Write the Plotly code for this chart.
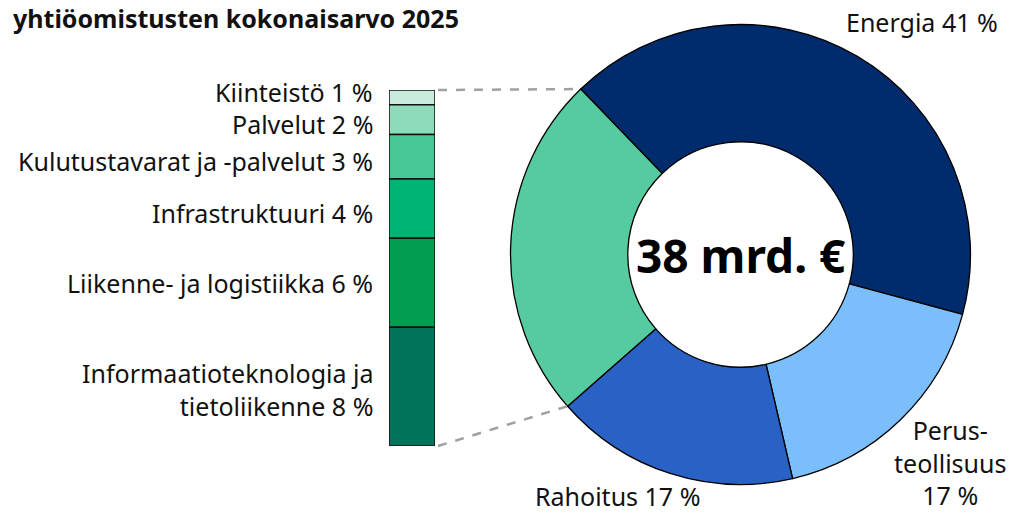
import math

import plotly.graph_objects as go

W, H = 1010, 513
FONT = "Noto Sans"

# Main donut
main_labels = ["Energia", "Perusteollisuus", "Rahoitus", "Muut toimialat"]
main_values = [41, 17, 17, 24]
main_colors = ["#002B6C", "#7BBEFC", "#2962C4", "#57CBA0"]
main_texts = ["Energia 41 %", "Perus-<br>teollisuus<br>17 %", "Rahoitus 17 %"]

# Breakdown of the green slice
other_labels = [
    "Kiinteistö 1 %",
    "Palvelut 2 %",
    "Kulutustavarat ja -palvelut 3 %",
    "Infrastruktuuri 4 %",
    "Liikenne- ja logistiikka 6 %",
    "Informaatioteknologia ja<br>tietoliikenne 8 %",
]
other_values = [1, 2, 3, 4, 6, 8]
other_colors = ["#C8EBDC", "#8DDBBA", "#46C796", "#00B473", "#009E4E", "#00735A"]
label_shift = [5, -4, -4, -4, 0, -3]

total_text = "38 mrd. €"
title_text = "yhtiöomistusten kokonaisarvo 2025"

# geometry (pixels)
cx, cy, R = 740.5, 254.5, 230
bar_left, bar_right, bar_top, bar_bottom = 389, 435, 90, 446
rotation = -44
TXT = 25

fig = go.Figure()

fig.add_trace(
    go.Pie(
        labels=main_labels,
        values=main_values,
        marker=dict(colors=main_colors, line=dict(color="#000000", width=1.3)),
        hole=0.49,
        sort=False,
        direction="clockwise",
        rotation=rotation,
        textinfo="none",
        hoverinfo="label+percent",
        showlegend=False,
        domain=dict(
            x=[(cx - R) / W, (cx + R) / W],
            y=[1 - (cy + R) / H, 1 - (cy - R) / H],
        ),
    )
)

base = 0
for lab, val, col in zip(other_labels, other_values, other_colors):
    fig.add_trace(
        go.Bar(
            x=[0],
            y=[val],
            base=[base],
            width=1,
            marker=dict(color=col, line=dict(color="#111111", width=1.5)),
            name=lab.replace("<br>", " "),
            hoverinfo="name",
            showlegend=False,
        )
    )
    base += val
other_total = base

fig.update_layout(
    width=W,
    height=H,
    margin=dict(l=0, r=0, t=0, b=0),
    paper_bgcolor="white",
    plot_bgcolor="rgba(0,0,0,0)",
    barmode="overlay",
    xaxis=dict(
        domain=[bar_left / W, bar_right / W],
        range=[-0.5, 0.5],
        visible=False,
        fixedrange=True,
    ),
    yaxis=dict(
        domain=[1 - bar_bottom / H, 1 - bar_top / H],
        range=[other_total, 0],
        visible=False,
        fixedrange=True,
    ),
    font=dict(family=FONT, color="#111111"),
)

# category labels next to the bar
cum = 0
for lab, val, sh in zip(other_labels, other_values, label_shift):
    fig.add_annotation(
        text=lab,
        x=374 / W,
        xref="paper",
        y=cum + val / 2,
        yref="y",
        xanchor="right",
        yanchor="middle",
        align="right",
        yshift=sh,
        borderpad=0,
        showarrow=False,
        font=dict(size=TXT, family=FONT, color="#111111"),
    )
    cum += val


# connector lines from bar to the green slice edges
def rim_point(frac):
    ang = math.radians(rotation + 360 * frac)
    return (cx + R * math.sin(ang)) / W, 1 - (cy - R * math.cos(ang)) / H


tot = sum(main_values)
start_frac = (tot - main_values[-1]) / tot
for frac, ypix in [(0.0, bar_top), (start_frac, bar_bottom)]:
    px, py = rim_point(frac)
    fig.add_shape(
        type="line",
        xref="paper",
        yref="paper",
        x0=(bar_right + 3) / W,
        y0=1 - ypix / H,
        x1=px,
        y1=py,
        line=dict(color="#A0A0A0", width=2.5, dash="dash"),
    )

# centre value
fig.add_annotation(
    text=f"<b>{total_text}</b>",
    x=cx / W,
    y=1 - cy / H,
    xref="paper",
    yref="paper",
    xanchor="center",
    yanchor="middle",
    showarrow=False,
    font=dict(size=46, family=FONT, color="#000000"),
)

# slice labels
for txt, (x, y) in zip(main_texts, [(922, 22), (950, 462), (617, 496)]):
    fig.add_annotation(
        text=txt,
        x=x / W,
        y=1 - y / H,
        xref="paper",
        yref="paper",
        xanchor="center",
        yanchor="middle",
        align="center",
        borderpad=0,
        showarrow=False,
        font=dict(size=TXT, family=FONT, color="#111111"),
    )

fig.add_annotation(
    text=f"<b>{title_text}</b>",
    x=12 / W,
    y=1,
    xref="paper",
    yref="paper",
    xanchor="left",
    yanchor="top",
    borderpad=0,
    showarrow=False,
    font=dict(size=25, family=FONT, color="#111111"),
)

fig.write_html(
    "out.html",
    config={"displayModeBar": False},
    post_script="document.body.style.margin='0px';",
)
